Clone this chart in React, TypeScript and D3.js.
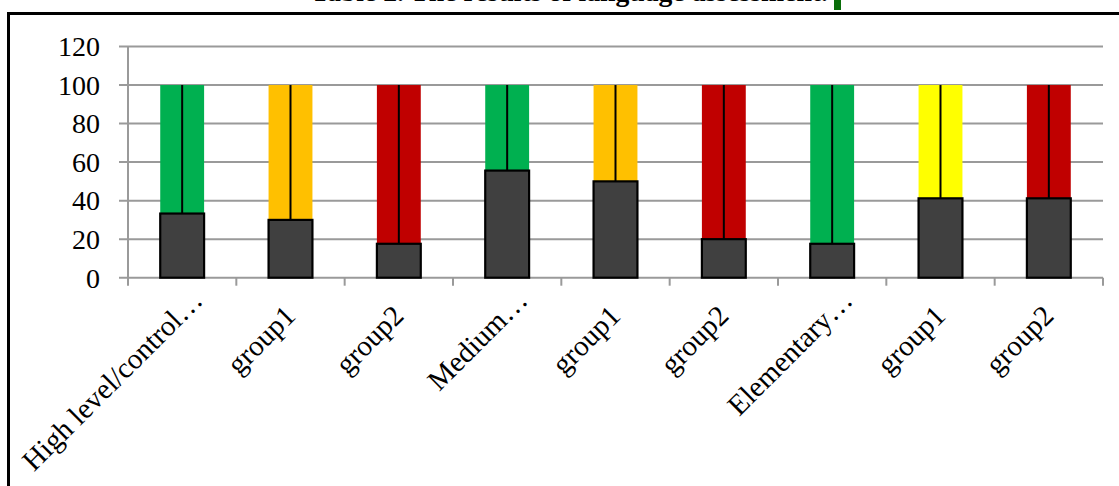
import React from "react";
import * as d3 from "d3";

const categories = [
  "High level/control…",
  "group1",
  "group2",
  "Medium…",
  "group1",
  "group2",
  "Elementary…",
  "group1",
  "group2",
];
const scoreValues = [33.3, 30, 17.6, 55.6, 50, 20, 17.6, 41.2, 41.2];
const totalValues = [100, 100, 100, 100, 100, 100, 100, 100, 100];
const topColors = [
  "#00B050",
  "#FFC000",
  "#C00000",
  "#00B050",
  "#FFC000",
  "#C00000",
  "#00B050",
  "#FFFF00",
  "#C00000",
];
const yTicks = [0, 20, 40, 60, 80, 100, 120];
const titleText = "Table 2. The results of language assessment.";

const W = 1119;
const H = 486;

export default function App() {
  const x = d3
    .scaleBand<number>()
    .domain(categories.map((_, i) => i))
    .range([128, 1103])
    .padding(0);
  const y = d3.scaleLinear().domain([0, 120]).range([277.7, 46.5]);
  const bw = x.bandwidth();
  const barW = bw * 0.405;
  const font = "'Liberation Serif', 'Times New Roman', serif";
  const gridColor = "#9a9a9a";

  return (
    <svg
      width={W}
      height={H}
      style={{ position: "absolute", left: 0, top: 0, background: "#fff" }}
    >
      {/* title (clipped at top) */}
      <text
        x={311}
        y={1}
        fontFamily={font}
        fontWeight="bold"
        fontSize={27.5}
        textLength={517}
        lengthAdjust="spacingAndGlyphs"
        fill="#000"
      >
        {titleText}
      </text>
      <rect x={834} y={0} width={7} height={10} fill="#0A6E0A" />

      {/* outer border */}
      <rect
        x={8.5}
        y={13.5}
        width={1300}
        height={700}
        fill="none"
        stroke="#000"
        strokeWidth={3}
      />

      {/* gridlines */}
      {yTicks.map((t) => (
        <line
          key={"g" + t}
          x1={119}
          x2={1103}
          y1={y(t)}
          y2={y(t)}
          stroke={gridColor}
          strokeWidth={2}
        />
      ))}
      {/* y axis line */}
      <line
        x1={128}
        x2={128}
        y1={y(120)}
        y2={y(0) + 8}
        stroke={gridColor}
        strokeWidth={2}
      />
      {/* x ticks */}
      {categories.map((_, i) => (
        <line
          key={"xt" + i}
          x1={(x(i) as number) + bw}
          x2={(x(i) as number) + bw}
          y1={y(0)}
          y2={y(0) + 8}
          stroke={gridColor}
          strokeWidth={2}
        />
      ))}

      {/* y tick labels */}
      {yTicks.map((t) => (
        <text
          key={"yl" + t}
          x={100}
          y={y(t)}
          dy="0.35em"
          textAnchor="end"
          fontFamily={font}
          fontSize={28}
          fill="#000"
        >
          {t}
        </text>
      ))}

      {/* bars */}
      {categories.map((_, i) => {
        const cx = (x(i) as number) + bw / 2;
        const v = scoreValues[i];
        const tot = totalValues[i];
        return (
          <g key={"b" + i}>
            <rect
              x={cx - barW / 2}
              y={y(tot)}
              width={barW}
              height={y(v) - y(tot)}
              fill={topColors[i]}
            />
            <line
              x1={cx}
              x2={cx}
              y1={y(tot)}
              y2={y(v)}
              stroke="#000"
              strokeWidth={2}
            />
            <rect
              x={cx - barW / 2}
              y={y(v)}
              width={barW}
              height={y(0) - y(v)}
              fill="#404040"
              stroke="#000"
              strokeWidth={2.2}
            />
          </g>
        );
      })}

      {/* x labels */}
      {categories.map((c, i) => {
        const cx = (x(i) as number) + bw / 2;
        const truncated = c.endsWith("…");
        return (
          <text
            key={"xl" + i}
            transform={`translate(${cx + 22},${302}) rotate(-45)`}
            textAnchor="end"
            dx={truncated ? 0 : -22}
            fontFamily={font}
            fontSize={29}
            fill="#000"
          >
            {c}
          </text>
        );
      })}
    </svg>
  );
}
